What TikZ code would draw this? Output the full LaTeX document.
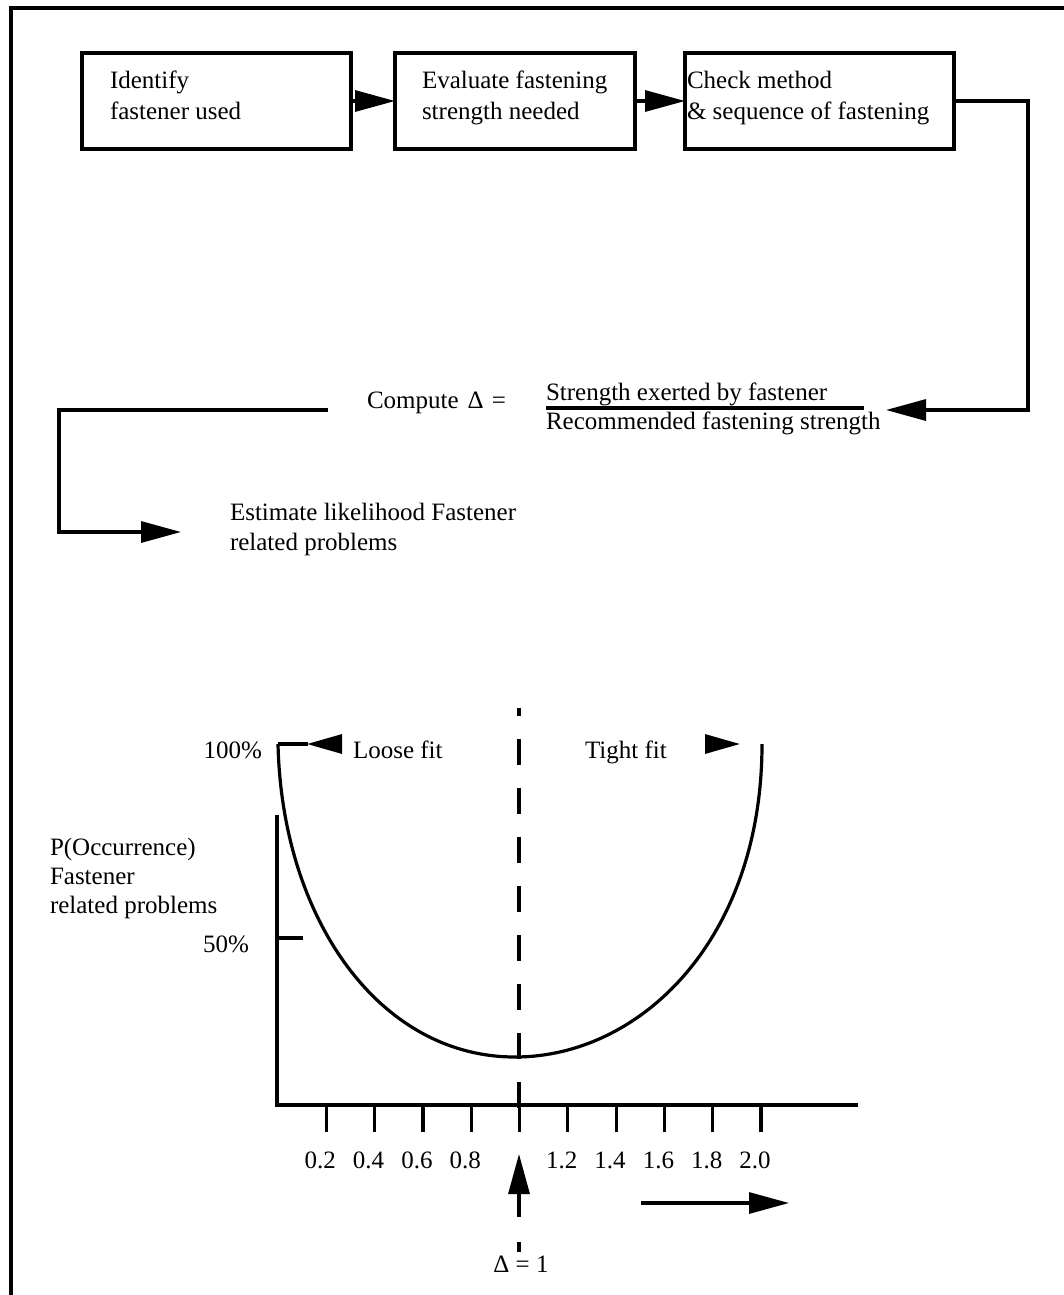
\documentclass[tikz,border=0pt]{standalone}
\usepackage{fontspec}
\setmainfont{Liberation Serif}
\usetikzlibrary{arrows.meta}
\begin{document}
\begin{tikzpicture}[x=1pt,y=-1pt,
  every node/.style={font=\fontsize{25}{30}\selectfont, inner sep=0pt, outer sep=0pt},
  line/.style={line width=3.2pt},
  stepbox/.style={draw, line width=3.2pt, minimum height=96pt},
  txt/.style={anchor=base west},
  flow/.style={line width=3.2pt, -{Triangle[length=40pt,width=21pt]}},
  tiphead/.style={line width=3.2pt, -{Triangle[length=35pt,width=19pt]}},
  lab/.style={anchor=base}
]
\useasboundingbox[fill=white] (0,0) rectangle (1064,1295);

% outer frame (only its top and left edges fall inside the page)
\draw[line] (11,1300) -- (11,8) -- (1070,8);

% ---------- process steps ----------
\node[stepbox, minimum width=269pt] (box1) at (216.5,101) {};
\node[stepbox, minimum width=240pt] (box2) at (515,101) {};
\node[stepbox, minimum width=269pt] (box3) at (819.5,101) {};

\node[txt] (t1a) at (110,89)  {Identify};
\node[txt] (t1b) at (110,120) {fastener used};
\node[txt] (t2a) at (422,89)  {Evaluate fastening};
\node[txt] (t2b) at (422,120) {strength needed};
\node[txt] (t3a) at (687,89)  {Check method};
\node[txt] (t3b) at (687,120) {\& sequence of fastening};

\draw[flow] (box1) -- (box2);
\draw[flow] (box2) -- (box3);

% ---------- ratio computation ----------
\node[txt] (compute) at (367,408) {Compute\hspace{9pt}Δ\hspace{8pt}=};
\node[txt] (num) at (546,400) {Strength exerted by fastener};
\node[txt] (den) at (546,429) {Recommended fastening strength};
\draw[line] (546,408) -- (864,408);

\coordinate (fracin) at (886,410);
\draw[flow] (box3.east) -- (1028,101) -- (1028,410) -- (fracin);

\coordinate (cmpout) at (328,410);
\node[txt] (est1) at (230,520) {Estimate likelihood Fastener};
\node[txt] (est2) at (230,550) {related problems};
\draw[flow] (cmpout) -- (59,410) -- (59,532) -- ([xshift=-49pt]est1.base west |- 0,532);

% ---------- probability curve ----------
% axes
\draw[line] (277,815) -- (277,1105) -- (858,1105);
\draw[line] (277,938) -- (303,938);
\foreach \v/\t in {0.2/0.2,0.4/0.4,0.6/0.6,0.8/0.8,1.0/,1.2/1.2,1.4/1.4,1.6/1.6,1.8/1.8,2.0/2.0}{
  \draw[line] ({278+\v*241.5},1105) -- ({278+\v*241.5},1132);
  \node[lab] at ({272+\v*241.5},1168) {\t};
}

% axis labels
\node[anchor=base east] (p100) at (262,758) {100\%};
\node[anchor=base east] (p50) at (249,952) {50\%};
\node[txt] (ya) at (50,855) {P(Occurrence)};
\node[txt] (yb) at (50,884) {Fastener};
\node[txt] (yc) at (50,913) {related problems};

% Delta = 1 reference line
\draw[line, dash pattern=on 26pt off 23pt, dash phase=18pt] (519,708) -- (519,1108);
\draw[line] (519,1242) -- (519,1252);
\draw[flow] (519,1217) -- (519,1154);
\node[lab] (d1) at (521,1272) {Δ = 1};

% fit annotations
\node[txt] (loose) at (353,758) {Loose fit};
\node[txt] (tight) at (585,758) {Tight fit};
\draw[line] (278,744) -- (308,744);
\draw[tiphead] (342,744) -- (307,744);
\draw[tiphead] (705,744) -- (740,744);

% the curve
\draw[line, line join=round]
  (278,744) .. controls (282,920) and (380,1057) .. (515,1057)
            .. controls (640,1057) and (762,940) .. (762,744);

% direction of increasing Delta
\draw[flow] (641,1203) -- (789,1203);
\end{tikzpicture}
\end{document}
